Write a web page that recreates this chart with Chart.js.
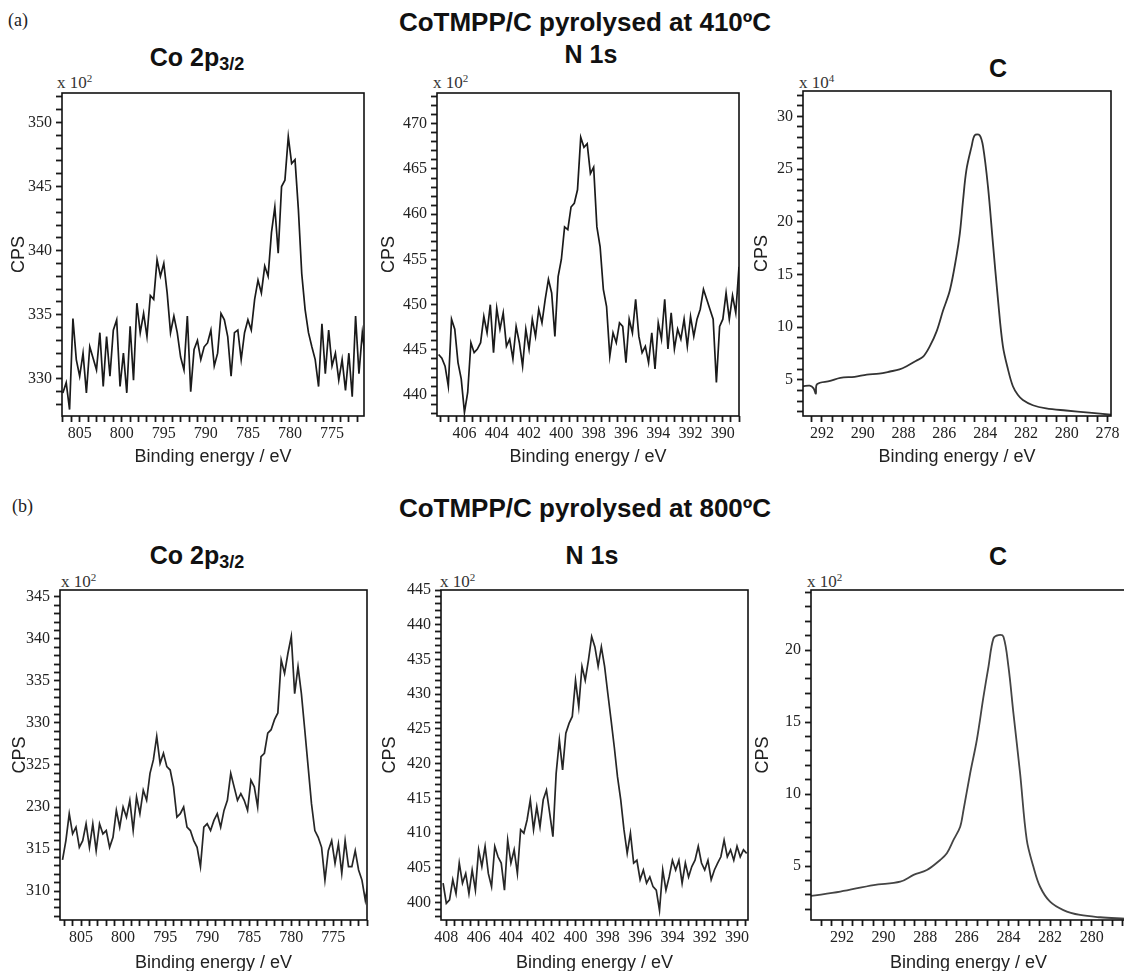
<!DOCTYPE html>
<html>
<head>
<meta charset="utf-8">
<script src="https://cdn.jsdelivr.net/npm/chart.js@4.4.1/dist/chart.umd.min.js"></script>
<style>
body { margin: 0; width: 1124px; height: 971px; background: #fff; position: relative; overflow: hidden; }
canvas { position: absolute; }
.t { position: absolute; transform: translate(-50%, -50%); font: bold 25px "Liberation Sans", Arial, sans-serif; line-height: 1; white-space: nowrap; color: #111; }
.t.main { font-size: 26px; }
.t sub { font-size: 0.72em; line-height: 0; vertical-align: -0.25em; }
.lab { position: absolute; font: 18px "Liberation Serif", "Times New Roman", serif; line-height: 1; color: #222; }
.mul { position: absolute; font: 17px "Liberation Serif", "Times New Roman", serif; line-height: 1; color: #333; white-space: nowrap; }
.mul sup { font-size: 0.65em; line-height: 0; vertical-align: 0.5em; }
</style>
</head>
<body>
<div class="lab" style="left:8px;top:11px">(a)</div>
<div class="lab" style="left:12px;top:497px">(b)</div>
<div class="t main" style="left:585px;top:22px">CoTMPP/C pyrolysed at 410ºC</div>
<div class="t main" style="left:585px;top:508px">CoTMPP/C pyrolysed at 800ºC</div>
<div class="t" style="left:197px;top:57px">Co 2p<sub>3/2</sub></div>
<div class="t" style="left:591px;top:54px">N 1s</div>
<div class="t" style="left:998px;top:68px">C</div>
<div class="t" style="left:197px;top:555px">Co 2p<sub>3/2</sub></div>
<div class="t" style="left:592px;top:555px">N 1s</div>
<div class="t" style="left:998px;top:556px">C</div>
<div class="mul" style="left:57px;top:74px">x 10<sup>2</sup></div>
<div class="mul" style="left:433px;top:74px">x 10<sup>2</sup></div>
<div class="mul" style="left:799px;top:74px">x 10<sup>4</sup></div>
<div class="mul" style="left:61px;top:573px">x 10<sup>2</sup></div>
<div class="mul" style="left:440px;top:573px">x 10<sup>2</sup></div>
<div class="mul" style="left:807px;top:573px">x 10<sup>2</sup></div>
<script>
// (a) 410 ºC, Co 2p3/2: binding energy from 807.0 eV down in 0.4 eV steps
const coA_start = 807.0, coA_step = 0.4;
const coA_cps = [
  328.9, 329.7, 327.6, 334.7, 331.5, 330.2, 332.0, 328.9, 332.5, 331.6,
  330.7, 333.6, 329.4, 333.3, 330.2, 333.8, 334.6, 329.4, 332.0, 328.9,
  334.1, 329.9, 335.9, 333.6, 335.1, 333.3, 336.5, 336.2, 339.3, 338.0,
  339.0, 336.7, 333.6, 334.9, 333.6, 331.7, 330.7, 334.9, 329.0, 332.3,
  333.0, 331.5, 332.5, 332.8, 333.8, 331.0, 332.0, 335.1, 334.6, 333.3,
  330.2, 333.6, 333.8, 331.5, 333.6, 334.6, 333.8, 336.2, 337.7, 336.7,
  338.8, 338.0, 341.4, 343.4, 339.8, 345.0, 345.5, 348.9, 346.8, 347.1,
  343.2, 338.2, 335.4, 333.6, 332.5, 331.5, 329.4, 334.3, 330.4, 333.8,
  331.0, 332.0, 329.9, 331.5, 329.1, 332.0, 328.6, 334.9, 330.4, 333.6,
  331.5
];

// (a) N 1s: from 407.6 eV in 0.2 eV steps
const nA_start = 407.6, nA_step = 0.2;
const nA_cps = [
  444.5, 444.1, 443.2, 441.0, 448.4, 447.3, 443.6, 441.8, 438.1, 440.3,
  445.8, 444.7, 445.1, 445.8, 448.7, 446.9, 450.0, 444.7, 449.6, 447.3,
  449.1, 445.4, 446.2, 444.0, 447.6, 445.8, 443.2, 447.3, 445.1, 448.4,
  446.5, 449.5, 448.0, 450.6, 452.8, 451.3, 446.5, 453.1, 455.0, 458.6,
  458.3, 460.8, 461.2, 462.7, 468.5, 467.4, 467.8, 464.5, 465.2, 458.6,
  456.4, 451.7, 449.8, 444.3, 446.9, 445.8, 448.0, 447.6, 443.6, 448.4,
  446.9, 450.6, 446.5, 444.7, 445.4, 443.6, 446.9, 442.9, 448.0, 446.2,
  450.6, 445.1, 449.1, 445.1, 447.3, 446.2, 448.4, 445.4, 448.7, 446.5,
  448.4, 449.5, 451.7, 450.6, 449.5, 448.4, 441.4, 447.6, 448.4, 451.3,
  448.4, 451.0, 449.1, 454.2
];

// (a) C 1s (x 10^4)
const cA_energy = [292.93, 292.6, 292.41, 292.3, 292.24, 291.6, 291.1, 290.4, 289.8, 289.2,
  288.66, 288.2, 287.85, 287.4, 287.04, 286.71, 286.38, 286.06, 285.73, 285.41,
  285.24, 285.08, 284.92, 284.67, 284.51, 284.27, 284.1, 283.86, 283.62, 283.37,
  283.13, 282.88, 282.64, 282.4, 282.15, 281.66, 281.01, 280.04, 278.9, 277.83];
const cA_cps = [4.4, 4.45, 4.2, 3.7, 4.6, 4.9, 5.2, 5.3, 5.5, 5.6,
  5.8, 6.0, 6.3, 6.8, 7.2, 8.2, 9.6, 11.6, 13.5, 16.7,
  18.9, 22.1, 24.9, 27.1, 28.2, 28.2, 27.1, 23.3, 18.0, 12.6,
  8.2, 6.0, 4.4, 3.6, 3.1, 2.6, 2.3, 2.1, 1.9, 1.7];

// (b) 800 ºC, Co 2p3/2: from 807.2 eV in 0.4 eV steps
const coB_start = 807.2, coB_step = 0.4;
const coB_cps = [
  313.7, 316.0, 319.2, 316.8, 317.6, 315.2, 316.0, 318.0, 315.2, 318.0,
  314.8, 318.0, 316.8, 317.2, 315.2, 316.4, 319.6, 317.6, 320.0, 318.8,
  320.8, 317.2, 321.2, 319.2, 322.0, 320.8, 324.0, 325.6, 328.4, 325.2,
  326.4, 324.8, 324.4, 322.4, 318.8, 319.2, 320.0, 317.6, 317.2, 316.0,
  315.2, 312.9, 317.6, 318.0, 317.2, 318.4, 319.2, 317.6, 319.6, 320.8,
  324.0, 322.4, 320.8, 321.6, 320.8, 319.6, 323.2, 322.4, 320.0, 326.0,
  326.4, 328.8, 329.2, 330.4, 331.2, 337.5, 335.9, 338.3, 340.3, 333.5,
  336.7, 333.5, 329.2, 324.8, 320.4, 317.2, 316.4, 315.2, 311.3, 314.8,
  316.0, 313.3, 315.6, 312.1, 316.0, 312.9, 312.9, 314.8, 312.5, 311.3,
  308.9, 311.3
];
// tick text as printed on the original axis (320 is printed as 230)
const coB_yTickVals = [310, 315, 320, 325, 330, 335, 340, 345];
const coB_yTickText = ['310', '315', '230', '325', '330', '335', '340', '345'];

// (b) N 1s: from 408.2 eV in 0.2 eV steps
const nB_start = 408.2, nB_step = 0.2;
const nB_cps = [
  402.8, 399.9, 400.4, 403.3, 401.3, 405.7, 402.8, 404.2, 401.3, 404.7,
  401.8, 407.6, 405.2, 408.1, 404.2, 402.3, 408.1, 406.6, 405.7, 401.8,
  409.0, 405.7, 407.6, 404.2, 410.5, 410.0, 411.9, 414.8, 410.5, 413.8,
  410.9, 414.8, 416.2, 412.9, 409.5, 418.6, 423.4, 419.1, 424.4, 425.8,
  426.8, 432.0, 428.2, 434.0, 432.0, 434.9, 438.3, 436.8, 434.0, 436.8,
  434.0, 430.1, 426.3, 422.4, 418.1, 414.8, 410.5, 407.1, 410.0, 405.7,
  406.1, 403.3, 404.7, 402.8, 403.7, 402.3, 401.8, 398.9, 404.7, 401.8,
  403.7, 406.1, 404.7, 406.1, 402.8, 405.7, 403.7, 405.2, 406.1, 408.1,
  405.7, 404.7, 406.1, 403.3, 404.7, 405.7, 406.6, 409.0, 406.6, 407.6,
  406.1, 408.1, 406.6, 407.6, 407.1
];

// (b) C 1s (x 10^2)
const cB_energy = [293.49, 292.08, 290.48, 289.2, 288.56, 287.92, 287.28, 286.96, 286.64, 286.32,
  286.16, 285.84, 285.52, 285.2, 284.96, 284.72, 284.48, 284.24, 284.0, 283.76,
  283.44, 283.12, 282.8, 282.48, 282.0, 281.36, 280.56, 279.6, 278.4];
const cB_cps = [2.92, 3.22, 3.68, 3.91, 4.38, 4.72, 5.42, 5.88, 6.81, 7.73,
  8.89, 11.44, 13.75, 16.76, 18.84, 20.81, 21.04, 20.93, 18.84, 15.6,
  11.44, 6.81, 4.95, 3.56, 2.52, 1.94, 1.6, 1.44, 1.34];

function energyGrid(start, step, n) {
  const e = [];
  for (let i = 0; i < n; i++) e.push(+(start - i * step).toFixed(2));
  return e;
}
function pairs(xs, ys) { return xs.map((x, i) => ({x: x, y: ys[i]})); }
const onStep = (v, s) => Math.abs(v / s - Math.round(v / s)) < 1e-6;

const tickFont = {family: '"Liberation Serif", "Times New Roman", serif', size: 16};
const axisFont = {family: '"Liberation Sans", Arial, sans-serif', size: 18};

// closes the box on all four sides
const frameBox = {
  id: 'frameBox',
  afterDraw(chart) {
    const ctx = chart.ctx, a = chart.chartArea;
    ctx.save();
    ctx.strokeStyle = '#111';
    ctx.lineWidth = 1.6;
    ctx.strokeRect(a.left, a.top, a.right - a.left, a.bottom - a.top);
    ctx.restore();
  }
};

function panel(p) {
  const PAD = {top: 14, right: 20, left: 0, bottom: 0}, YW = 62, XH = 64;
  const [l, t, r, b] = p.frame;
  const cv = document.createElement('canvas');
  cv.width = r - l + YW + PAD.right;
  cv.height = b - t + PAD.top + XH;
  cv.style.left = (l - YW) + 'px';
  cv.style.top = (t - PAD.top) + 'px';
  document.body.appendChild(cv);

  const yLabel = v => {
    if (!onStep(v, p.yMajor)) return '';
    if (p.yVals) {
      const i = p.yVals.indexOf(Math.round(v));
      return i >= 0 ? p.yText[i] : '';
    }
    return String(Math.round(v));
  };

  const tickGrid = {display: true, drawOnChartArea: false, drawTicks: true, tickLength: 6,
                    tickColor: '#1a1a1a', tickWidth: 1.8};

  new Chart(cv, {
    type: 'line',
    data: {
      datasets: [{
        data: p.data,
        borderColor: p.color,
        borderWidth: p.width,
        pointRadius: 0,
        tension: p.tension,
        fill: false
      }]
    },
    options: {
      responsive: false,
      animation: false,
      devicePixelRatio: 1,
      layout: {padding: PAD},
      plugins: {legend: {display: false}, tooltip: {enabled: false}},
      scales: {
        x: {
          type: 'linear', reverse: true, min: p.xMin, max: p.xMax,
          afterFit: s => { s.height = XH; },
          grid: tickGrid,
          border: {display: false},
          ticks: {
            stepSize: p.xMinor, autoSkip: false, maxRotation: 0, minRotation: 0, includeBounds: false,
            padding: 2, color: '#222', font: tickFont,
            callback: v => onStep(v, p.xMajor) ? String(Math.round(v)) : ''
          },
          title: {display: true, text: 'Binding energy / eV', color: '#222', font: axisFont,
                  padding: {top: 0, bottom: p.xTitlePad}}
        },
        y: {
          type: 'linear', min: p.yMin, max: p.yMax,
          afterFit: s => { s.width = YW; },
          grid: tickGrid,
          border: {display: false},
          ticks: {
            stepSize: 1, autoSkip: false, includeBounds: false,
            padding: 4, color: '#222', font: tickFont, callback: yLabel
          },
          title: {display: true, text: 'CPS', color: '#222', font: axisFont,
                  padding: {top: p.yTitlePad, bottom: 0}}
        }
      }
    },
    plugins: [frameBox]
  });
}

panel({frame: [62, 93, 364, 416], data: pairs(energyGrid(coA_start, coA_step, coA_cps.length), coA_cps),
  xMin: 771.2, xMax: 807.1, xMinor: 1, xMajor: 5, yMin: 327.1, yMax: 352.3, yMajor: 5,
  color: '#1a1a1a', width: 1.7, tension: 0, xTitlePad: 12, yTitlePad: 8});
panel({frame: [437, 93, 739, 416], data: pairs(energyGrid(nA_start, nA_step, nA_cps.length), nA_cps),
  xMin: 389.0, xMax: 407.7, xMinor: 0.5, xMajor: 2, yMin: 437.7, yMax: 473.4, yMajor: 5,
  color: '#1a1a1a', width: 1.7, tension: 0, xTitlePad: 12, yTitlePad: 3});
panel({frame: [803, 91, 1111, 416], data: pairs(cA_energy, cA_cps),
  xMin: 277.83, xMax: 292.93, xMinor: 0.5, xMajor: 2, yMin: 1.58, yMax: 32.4, yMajor: 5,
  color: '#333', width: 1.8, tension: 0.35, xTitlePad: 12, yTitlePad: 10});
panel({frame: [60, 590, 367, 920], data: pairs(energyGrid(coB_start, coB_step, coB_cps.length), coB_cps),
  xMin: 771.0, xMax: 807.5, xMinor: 1, xMajor: 5, yMin: 306.55, yMax: 345.83, yMajor: 5,
  yVals: coB_yTickVals, yText: coB_yTickText,
  color: '#262626', width: 1.7, tension: 0, xTitlePad: 10.5, yTitlePad: 11});
panel({frame: [441, 590, 748, 920], data: pairs(energyGrid(nB_start, nB_step, nB_cps.length), nB_cps),
  xMin: 389.32, xMax: 408.33, xMinor: 0.5, xMajor: 2, yMin: 397.5, yMax: 445, yMajor: 5,
  color: '#262626', width: 1.7, tension: 0, xTitlePad: 10.5, yTitlePad: 0});
panel({frame: [811, 590, 1126, 920], data: pairs(cB_energy, cB_cps),
  xMin: 278.35, xMax: 293.49, xMinor: 0.5, xMajor: 2, yMin: 1.25, yMax: 24.17, yMajor: 5,
  color: '#444', width: 1.8, tension: 0.35, xTitlePad: 10.5, yTitlePad: 3});
</script>
</body>
</html>
